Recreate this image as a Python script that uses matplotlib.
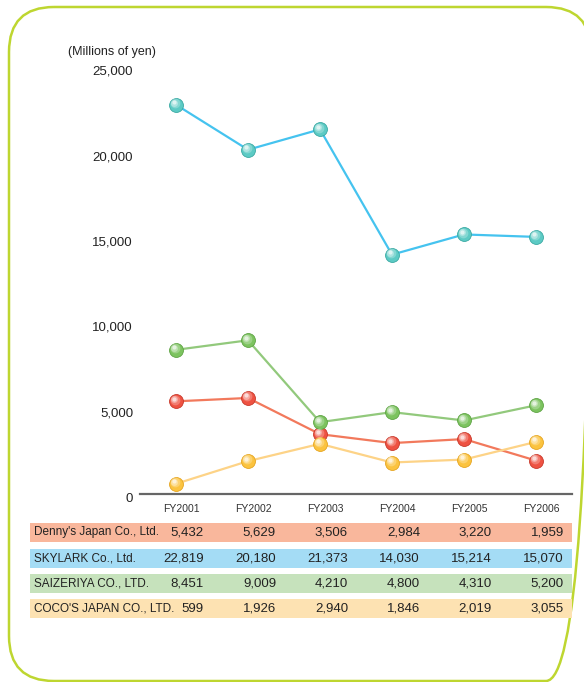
"""Operating income of family restaurant chains, FY2001-FY2006."""
import matplotlib
matplotlib.use("Agg")
import matplotlib.pyplot as plt
import matplotlib.transforms as mtransforms
from matplotlib.patches import FancyBboxPatch, Rectangle

plt.rcParams["font.family"] = ["Liberation Sans", "DejaVu Sans"]

years = ["FY2001", "FY2002", "FY2003", "FY2004", "FY2005", "FY2006"]
companies = ["Denny's Japan Co., Ltd.", "SKYLARK Co., Ltd.",
             "SAIZERIYA CO., LTD.", "COCO'S JAPAN CO., LTD."]
dennys = [5432, 5629, 3506, 2984, 3220, 1959]
skylark = [22819, 20180, 21373, 14030, 15214, 15070]
saizeriya = [8451, 9009, 4210, 4800, 4310, 5200]
cocos = [599, 1926, 2940, 1846, 2019, 3055]
series = [dennys, skylark, saizeriya, cocos]

y_ticks = [0, 5000, 10000, 15000, 20000, 25000]

# line colour, marker colour, table row fill
line_col = ["#f2795c", "#45c3ef", "#92c97c", "#fdd387"]
ball_col = ["#ee5242", "#5ccac4", "#7cc35f", "#fbc33f"]
ball_edge = ["#c8382a", "#3aa9a3", "#5ea444", "#e6a520"]
row_col = ["#f9b79c", "#a4dcf5", "#c6e2bc", "#fde2b2"]

W, H = 584, 682
fig = plt.figure(figsize=(W / 100, H / 100), dpi=100)

# overlay in pixel coordinates for frame + table
ov = fig.add_axes([0, 0, 1, 1])
ov.set_xlim(0, W)
ov.set_ylim(H, 0)
ov.axis("off")

r = 45
ov.add_patch(FancyBboxPatch((9 + r, 7 + r), 591 - 9 - 2 * r, 681 - 7 - 2 * r,
                            boxstyle=f"round,pad={r}", fc="none",
                            ec="#bed630", lw=1.8, clip_on=False))

x0, step = 140, 72
y_zero, y_top = 494, 67.5
ax = fig.add_axes([x0 / W, 1 - y_zero / H, 432 / W, (y_zero - y_top) / H])
ax.set_xlim(-0.5, 5.5)
ax.set_ylim(0, 25000)
for s in ["top", "right", "left"]:
    ax.spines[s].set_visible(False)
ax.spines["bottom"].set_color("#666666")
ax.spines["bottom"].set_linewidth(1.6)
ax.set_xticks(range(len(years)))
ax.set_xticklabels(years, fontsize=7.5, color="#333333")
ax.tick_params(axis="x", length=0, pad=7)
shift = mtransforms.ScaledTranslation(0.05, 0, fig.dpi_scale_trans)
for lab in ax.get_xticklabels():
    lab.set_transform(lab.get_transform() + shift)
ax.set_yticks(y_ticks)
ax.set_yticklabels([f"{v:,}" for v in y_ticks], fontsize=9.5, color="#222222")
ax.tick_params(axis="y", length=0, pad=5)
down = mtransforms.ScaledTranslation(0, -0.03, fig.dpi_scale_trans)
for lab in ax.get_yticklabels():
    lab.set_transform(lab.get_transform() + down)
ax.patch.set_alpha(0)
ax.text(-0.89, 25900, "(Millions of yen)", ha="center", va="center",
        fontsize=9, color="#222222")

xs = list(range(len(years)))
for vals, lc, bc, be in zip(series, line_col, ball_col, ball_edge):
    ax.plot(xs, vals, color=lc, lw=1.6, zorder=2, clip_on=False)
    ax.plot(xs, vals, "o", ms=10, mfc=bc, mec=be, mew=0.6, zorder=3, clip_on=False)
    # soft highlight to give the balls some depth
    for k, (ms, a) in enumerate([(7, 0.25), (5, 0.35), (3, 0.6)]):
        tr = mtransforms.offset_copy(ax.transData, fig=fig, x=-1.0 - 0.3 * k,
                                     y=1.2 + 0.3 * k, units="points")
        ax.plot(xs, vals, "o", ms=ms, mfc="white", mec="none", alpha=a,
                transform=tr, zorder=4, clip_on=False)

# table rows
row_top = [523, 549, 574, 599]
for i, (name, vals) in enumerate(zip(companies, series)):
    y = row_top[i]
    ov.add_patch(Rectangle((30, y), 542, 18.5, fc=row_col[i], ec="none"))
    ov.text(34, y + 9.5, name, ha="left", va="center", fontsize=8.5, color="#222222")
    for j, v in enumerate(vals):
        ov.text(x0 + step * (j + 0.5) + 28, y + 9.5, f"{v:,}", ha="right",
                va="center", fontsize=9.5, color="#222222")

fig.savefig("out.png", dpi=100)
